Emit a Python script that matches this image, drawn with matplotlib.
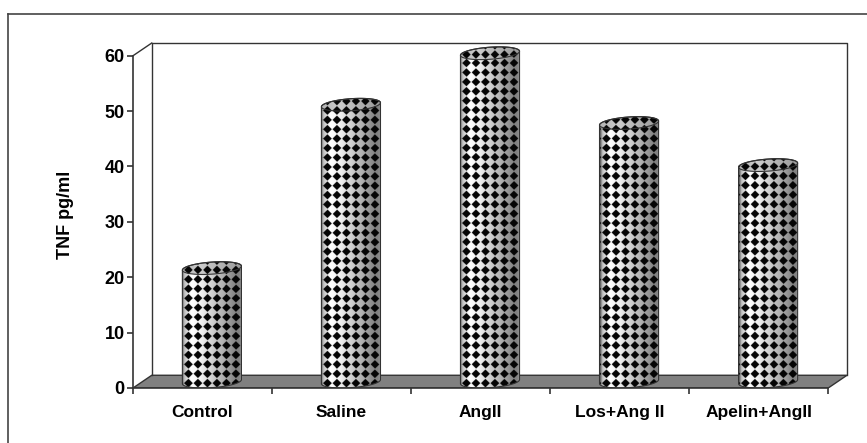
import numpy as np
import matplotlib
matplotlib.use('Agg')
import matplotlib.pyplot as plt
from matplotlib.patches import Polygon
from matplotlib.lines import Line2D

plt.rcParams['font.family'] = ['Liberation Sans', 'DejaVu Sans']
plt.rcParams['font.weight'] = 'bold'

# data
categories = ['Control', 'Saline', 'AngII', 'Los+Ang II', 'Apelin+AngII']
tnf = [20.5, 50.0, 59.3, 46.7, 39.1]
yticks = [0, 10, 20, 30, 40, 50, 60]

W, H = 867, 443
fig = plt.figure(figsize=(W / 100, H / 100), dpi=100)

# plot box in pixels (front axis at x=133, floor at y=388, back wall top at y=43)
x0px, x1px, y0px, y1px = 133, 847, 388, 43
ax = fig.add_axes([x0px / W, 1 - y0px / H, (x1px - x0px) / W, (y0px - y1px) / H])
DX, DY = 0.135, 2.3          # depth offset in data units
n = len(categories)
ymax = 60
sx = (x1px - x0px) / (n + DX)      # px per category
sy = (y0px - y1px) / (ymax + DY)   # px per value unit

line_col = '#333333'

# floor and back walls
floor = Polygon([(-0.5, 0), (n - 0.5, 0), (n - 0.5 + DX, DY), (-0.5 + DX, DY)],
                closed=True, facecolor='#808080', edgecolor=line_col, lw=1, zorder=1)
ax.add_patch(floor)
ax.plot([-0.5 + DX, -0.5 + DX, n - 0.5 + DX, n - 0.5 + DX],
        [DY, ymax + DY, ymax + DY, DY], color=line_col, lw=1, zorder=1, clip_on=False)
ax.plot([-0.5, -0.5 + DX], [ymax, ymax + DY], color=line_col, lw=1, zorder=1, clip_on=False)


def shade(u):
    return np.interp(u, [0, 0.04, 0.15, 0.3, 0.5, 0.7, 0.85, 0.95, 1.0],
                     [0.35, 0.75, 1.0, 0.95, 0.82, 0.68, 0.55, 0.5, 0.6])


def diamonds(xp, yp, sp=9.4, size=0.46):
    fx = (xp / sp) % 1 - 0.5
    fy = (yp / sp) % 1 - 0.5
    return (np.abs(fx) + np.abs(fy)) < size


def textured(path_pts, base, top_face=False):
    pts = np.array(path_pts)
    xmin, xmax = pts[:, 0].min(), pts[:, 0].max()
    ymin, ymax_ = pts[:, 1].min(), pts[:, 1].max()
    nx = max(int((xmax - xmin) * sx * 3), 2)
    ny = max(int((ymax_ - ymin) * sy * 3), 2)
    X, Y = np.meshgrid(np.linspace(xmin, xmax, nx), np.linspace(ymin, ymax_, ny))
    u = (X - xmin) / (xmax - xmin)
    if top_face:
        bg = np.interp(u, [0, 0.3, 1], [0.7, 0.8, 0.6])
    else:
        bg = shade(u)
    m = diamonds((X - base) * sx, Y * sy)
    img = np.where(m, 0.02, bg)
    poly = Polygon(pts, closed=True, facecolor='none', edgecolor=line_col,
                   lw=0.8, zorder=4, transform=ax.transData)
    ax.add_patch(poly)
    im = ax.imshow(img, extent=[xmin, xmax, ymin, ymax_], origin='lower',
                   aspect='auto', cmap='gray', vmin=0, vmax=1,
                   interpolation='antialiased', zorder=3)
    im.set_clip_path(poly)


R = 28 / sx
a_px, r_px = DX / 2 * sx, 28
th1 = np.arctan2(a_px, r_px)
for i, v in enumerate(tnf):
    cx = i + DX / 2
    cb = DY / 2
    ct = v + DY / 2

    def ell(th, cy):
        return cx + R * np.cos(th) + DX / 2 * np.sin(th), cy + DY / 2 * np.sin(th)

    t_back = np.linspace(th1, th1 + np.pi, 60)
    t_front = np.linspace(th1 + np.pi, th1 + 2 * np.pi, 60)
    bx, by = ell(t_back, ct)
    fx, fy = ell(t_front, cb)
    body = list(zip(bx, by)) + list(zip(fx, fy))
    textured(body, cx - R)
    tt = np.linspace(0, 2 * np.pi, 120)
    tx, ty = ell(tt, ct)
    textured(list(zip(tx, ty)), cx - R, top_face=True)

ax.set_xlim(-0.5, n - 0.5 + DX)
ax.set_ylim(0, ymax + DY)
for s in ['top', 'right']:
    ax.spines[s].set_visible(False)
ax.spines['left'].set_bounds(0, ymax)
ax.spines['bottom'].set_bounds(-0.5, n - 0.5)
for s in ['left', 'bottom']:
    ax.spines[s].set_color(line_col)
    ax.spines[s].set_linewidth(1.2)
    ax.spines[s].set_zorder(5)
ax.patch.set_visible(False)

ax.set_yticks(yticks)
ax.set_yticklabels([str(t) for t in yticks], fontsize=13, fontweight='bold')
ax.tick_params(axis='y', direction='out', length=4, width=1.2, color=line_col, pad=2)
ax.set_xticks(range(n))
ax.set_xticklabels(categories, fontsize=12.5, fontweight='bold')
ax.set_xticks(np.arange(-0.5, n), minor=True)
ax.tick_params(axis='x', which='major', length=0, pad=12)
ax.tick_params(axis='x', which='minor', direction='out', length=4, width=1.2, color=line_col)

fig.text(66 / W, 1 - 215 / H, 'TNF pg/ml', rotation=90, ha='center', va='center',
         fontsize=13, fontweight='bold')

# outer frame (left and top edges)
fig.add_artist(Line2D([8 / W, 8 / W], [0, 1 - 14 / H], color='#444444', lw=1.2))
fig.add_artist(Line2D([8 / W, 1], [1 - 14 / H, 1 - 14 / H], color='#444444', lw=1.2))

fig.savefig('out.png', dpi=100)
